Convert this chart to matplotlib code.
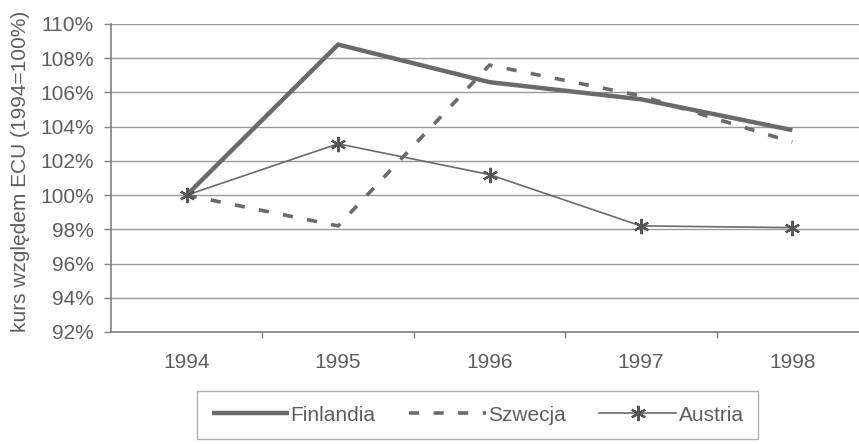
import matplotlib
matplotlib.use("Agg")
import matplotlib.pyplot as plt
from matplotlib.ticker import FuncFormatter

years = ["1994", "1995", "1996", "1997", "1998"]
finlandia = [100.0, 108.8, 106.6, 105.6, 103.8]
szwecja = [100.0, 98.2, 107.6, 105.8, 103.1]
austria = [100.0, 103.0, 101.2, 98.2, 98.1]
y_ticks = [92, 94, 96, 98, 100, 102, 104, 106, 108, 110]

plt.rcParams["font.family"] = ["Liberation Sans", "DejaVu Sans"]
text_col = "#5e5e5e"
line_col = "#6a6a6a"
grid_col = "#9a9a9a"
fs = 15

fig = plt.figure(figsize=(8.59, 4.44), dpi=100)
ax = fig.add_axes([111 / 859, 112 / 444, 757 / 859, 308 / 444])

x = list(range(len(years)))
ax.plot(x, finlandia, color=line_col, lw=3.2, solid_capstyle="butt", label="Finlandia", zorder=3)
ax.plot(x, szwecja, color=line_col, lw=2.6, dashes=(2.8, 4.0), dash_capstyle="butt",
        label="Szwecja", zorder=3)
ax.plot(x, austria, color=line_col, lw=1.2, marker=(6, 2, 0), markersize=11,
        markeredgewidth=1.6, markeredgecolor="#555555", label="Austria", zorder=4)

ax.set_xlim(-0.5, len(years) - 0.5)
ax.set_ylim(92, 110)
ax.set_yticks(y_ticks)
ax.yaxis.set_major_formatter(FuncFormatter(lambda v, p: f"{v:.0f}%"))
ax.set_xticks(x)
ax.set_xticklabels(years)
ax.set_xticks([i + 0.5 for i in x[:-1]], minor=True)

ax.grid(axis="y", color=grid_col, lw=1.0)
ax.set_axisbelow(True)
for s in ("top", "right"):
    ax.spines[s].set_visible(False)
for s in ("left", "bottom"):
    ax.spines[s].set_color("#808080")
    ax.spines[s].set_linewidth(1.2)

ax.tick_params(axis="y", which="major", length=5, width=1, color="#808080",
               labelsize=fs, labelcolor=text_col, pad=7.5)
ax.tick_params(axis="x", which="major", length=0, labelsize=fs, labelcolor=text_col, pad=15)
ax.tick_params(axis="x", which="minor", length=4, width=1, color="#808080")

ax.set_ylabel("kurs względem ECU (1994=100%)", fontsize=fs, color=text_col)
ax.yaxis.set_label_coords(-0.107, 0.52)

leg = fig.legend(loc="upper left", bbox_to_anchor=(197 / 859, 53 / 444), ncol=3,
                 frameon=True, fancybox=False, fontsize=fs, handlelength=3.7,
                 handletextpad=0.1, columnspacing=1.6, borderpad=0.7,
                 borderaxespad=0)
leg.get_frame().set_edgecolor("#9a9a9a")
leg.get_frame().set_linewidth(1.0)
for t in leg.get_texts():
    t.set_color(text_col)

fig.savefig("out.png", dpi=100)
